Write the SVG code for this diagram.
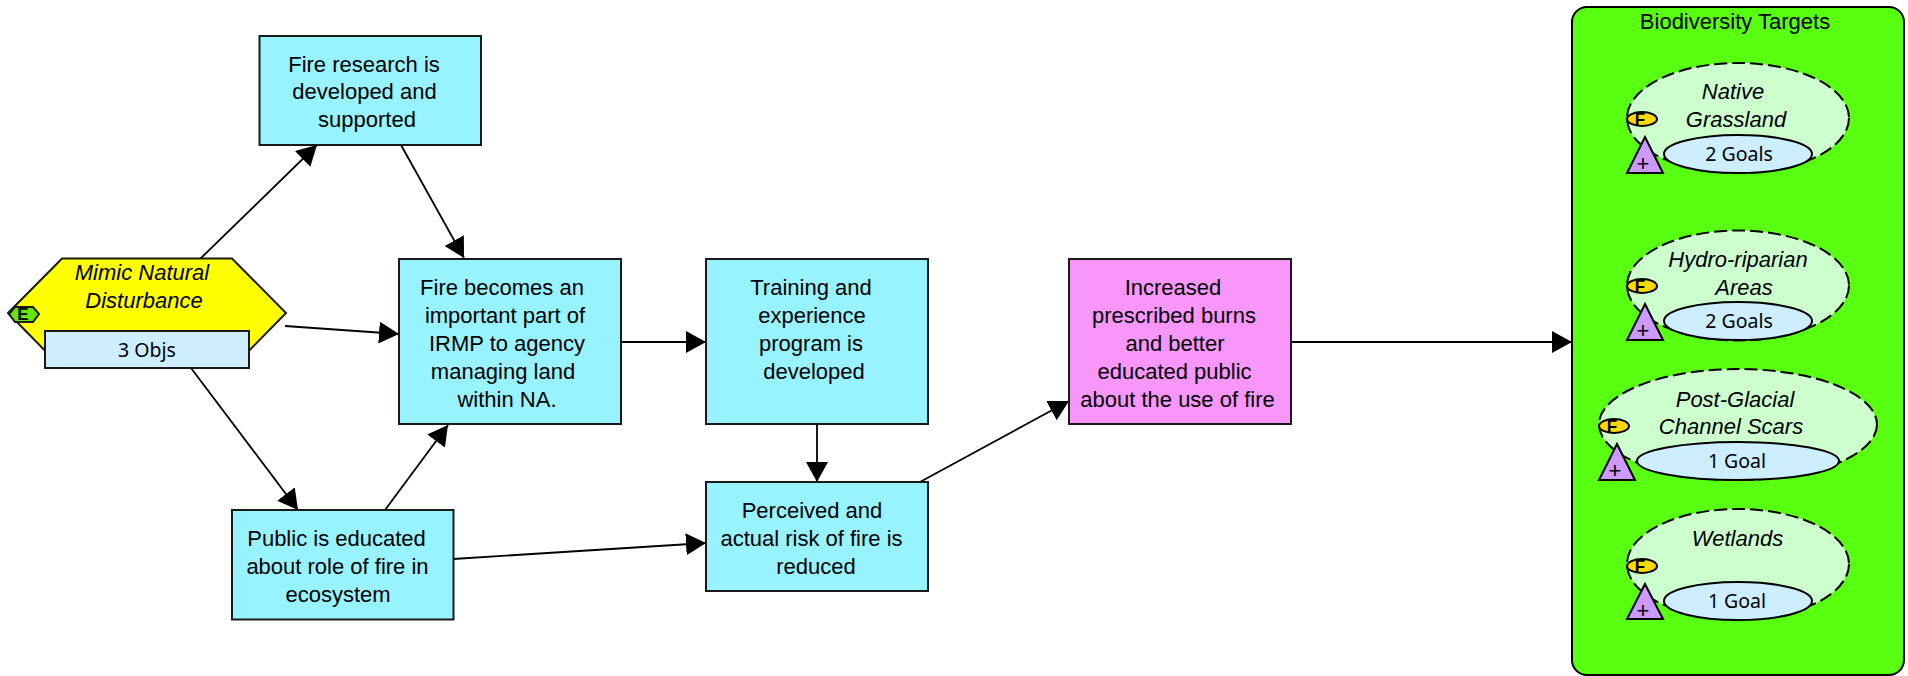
<svg xmlns="http://www.w3.org/2000/svg" width="1908" height="676" viewBox="0 0 1908 676">
<style>
.t{font-family:"Liberation Sans",Arial,sans-serif;font-size:22px;text-anchor:middle;fill:#000}
.i{font-style:italic}
.s{font-family:"Noto Sans",sans-serif;font-size:19.5px;text-anchor:middle;fill:#000}
.b{font-family:"Liberation Sans",Arial,sans-serif;font-size:17px;font-weight:bold;text-anchor:middle;fill:#000}
.n{stroke:#1a1a1a;stroke-width:2}
.c{fill:#97f3ff}
.e{fill:#cdfece;stroke:#000;stroke-width:2;stroke-dasharray:13 5}
.o{fill:#cdeeff;stroke:#000;stroke-width:2}
.f{fill:#ffd800;stroke:#000;stroke-width:2}
.p{fill:#cc99ff;stroke:#000;stroke-width:2}
.l{stroke:#000;stroke-width:1.8;fill:none;marker-end:url(#a)}
</style>
<defs>
<marker id="a" markerUnits="userSpaceOnUse" markerWidth="22" markerHeight="24" refX="20" refY="11" orient="auto"><path d="M0 0L20 11L0 22Z" fill="#000"/></marker>
</defs>
<rect width="1908" height="676" fill="#fff"/>
<g id="connectors">
<path class="l" d="M200 259L317 145"/>
<path class="l" d="M401 145L464 258"/>
<path class="l" d="M285 326L399 334"/>
<path class="l" d="M191 368L298 510"/>
<path class="l" d="M385 510L448 425"/>
<path class="l" d="M453 559L706 543"/>
<path class="l" d="M621 342L706 342"/>
<path class="l" d="M817 424L817 482"/>
<path class="l" d="M920 482L1069 401"/>
<path class="l" d="M1290 342L1572 342"/>
</g>
<g id="n1"><rect class="n c" x="259.500" y="36" width="221.500" height="109"/><text class="t" x="364" y="72">Fire research is</text><text class="t" x="364.500" y="99">developed and</text><text class="t" x="367" y="127">supported</text></g>
<g id="n2"><rect class="n c" x="399" y="259" width="222" height="165"/><text class="t" x="502" y="295">Fire becomes an</text><text class="t" x="505" y="323">important part of</text><text class="t" x="507" y="351">IRMP to agency</text><text class="t" x="503" y="379">managing land</text><text class="t" x="507" y="407">within NA.</text></g>
<g id="n3"><rect class="n c" x="706" y="259" width="222" height="165"/><text class="t" x="811" y="295">Training and</text><text class="t" x="812" y="323">experience</text><text class="t" x="811" y="351">program is</text><text class="t" x="814" y="379">developed</text></g>
<g id="n4"><rect class="n" fill="#f996fc" x="1069" y="259" width="222" height="165"/><text class="t" x="1173" y="295">Increased</text><text class="t" x="1174" y="323">prescribed burns</text><text class="t" x="1175" y="351">and better</text><text class="t" x="1174.500" y="379">educated public</text><text class="t" x="1177.500" y="407">about the use of fire</text></g>
<g id="n5"><rect class="n c" x="706" y="482" width="222" height="109"/><text class="t" x="812" y="518">Perceived and</text><text class="t" x="811.500" y="546">actual risk of fire is</text><text class="t" x="816" y="574">reduced</text></g>
<g id="n6"><rect class="n c" x="232" y="510" width="221.500" height="109.500"/><text class="t" x="336.500" y="546">Public is educated</text><text class="t" x="337.500" y="574">about role of fire in</text><text class="t" x="338" y="602">ecosystem</text></g>
<g id="n7"><path class="n" fill="#ff0" d="M8 313L62 258.500H232L286 313L232 368H62Z"/><text class="t i" x="142" y="280">Mimic Natural</text><text class="t i" x="144" y="308">Disturbance</text><path class="n" fill="#66e600" d="M9 314L15 307H33L39 314L33 322H15Z"/><text class="b" x="23" y="320">E</text><rect class="n" fill="#cdeeff" x="45" y="331" width="204" height="37"/><text class="s" x="147" y="357">3 Objs</text></g>
<g id="n8"><rect x="1572" y="7" width="332" height="668" rx="15" fill="#59ff10" stroke="#000" stroke-width="2"/><text class="t" x="1735" y="29">Biodiversity Targets</text></g>
<g id="n9"><ellipse class="e" cx="1738" cy="118" rx="111" ry="55"/><text class="t i" x="1733" y="99">Native</text><text class="t i" x="1736" y="127">Grassland</text><ellipse class="f" cx="1642" cy="119" rx="15" ry="7"/><text class="b" x="1640" y="125">F</text><ellipse class="o" cx="1738" cy="154" rx="74" ry="19"/><text class="s" x="1739" y="161">2 Goals</text><path class="p" d="M1645 137L1663 173H1627Z"/><text class="t" x="1643" y="171">+</text></g>
<g id="n10"><ellipse class="e" cx="1738" cy="285.500" rx="111" ry="55"/><text class="t i" x="1738" y="267">Hydro-riparian</text><text class="t i" x="1744" y="295">Areas</text><ellipse class="f" cx="1642" cy="286" rx="15" ry="7"/><text class="b" x="1640" y="292">F</text><ellipse class="o" cx="1738" cy="321" rx="74" ry="19"/><text class="s" x="1739" y="328">2 Goals</text><path class="p" d="M1645 304L1663 340H1627Z"/><text class="t" x="1643" y="338">+</text></g>
<g id="n11"><ellipse class="e" cx="1738" cy="424.500" rx="139" ry="55.500"/><text class="t i" x="1735" y="407">Post-Glacial</text><text class="t i" x="1731" y="434">Channel Scars</text><ellipse class="f" cx="1614" cy="426" rx="15" ry="7"/><text class="b" x="1612" y="432">F</text><ellipse class="o" cx="1738" cy="461" rx="101" ry="19"/><text class="s" x="1737" y="468">1 Goal</text><path class="p" d="M1617 444L1635 480H1599Z"/><text class="t" x="1615" y="478">+</text></g>
<g id="n12"><ellipse class="e" cx="1738" cy="564" rx="111" ry="55"/><text class="t i" x="1737.500" y="546">Wetlands</text><ellipse class="f" cx="1642" cy="566" rx="15" ry="7"/><text class="b" x="1640" y="572">F</text><ellipse class="o" cx="1738" cy="601" rx="74" ry="19"/><text class="s" x="1737" y="608">1 Goal</text><path class="p" d="M1645 584L1663 619H1627Z"/><text class="t" x="1643" y="618">+</text></g>
</svg>
